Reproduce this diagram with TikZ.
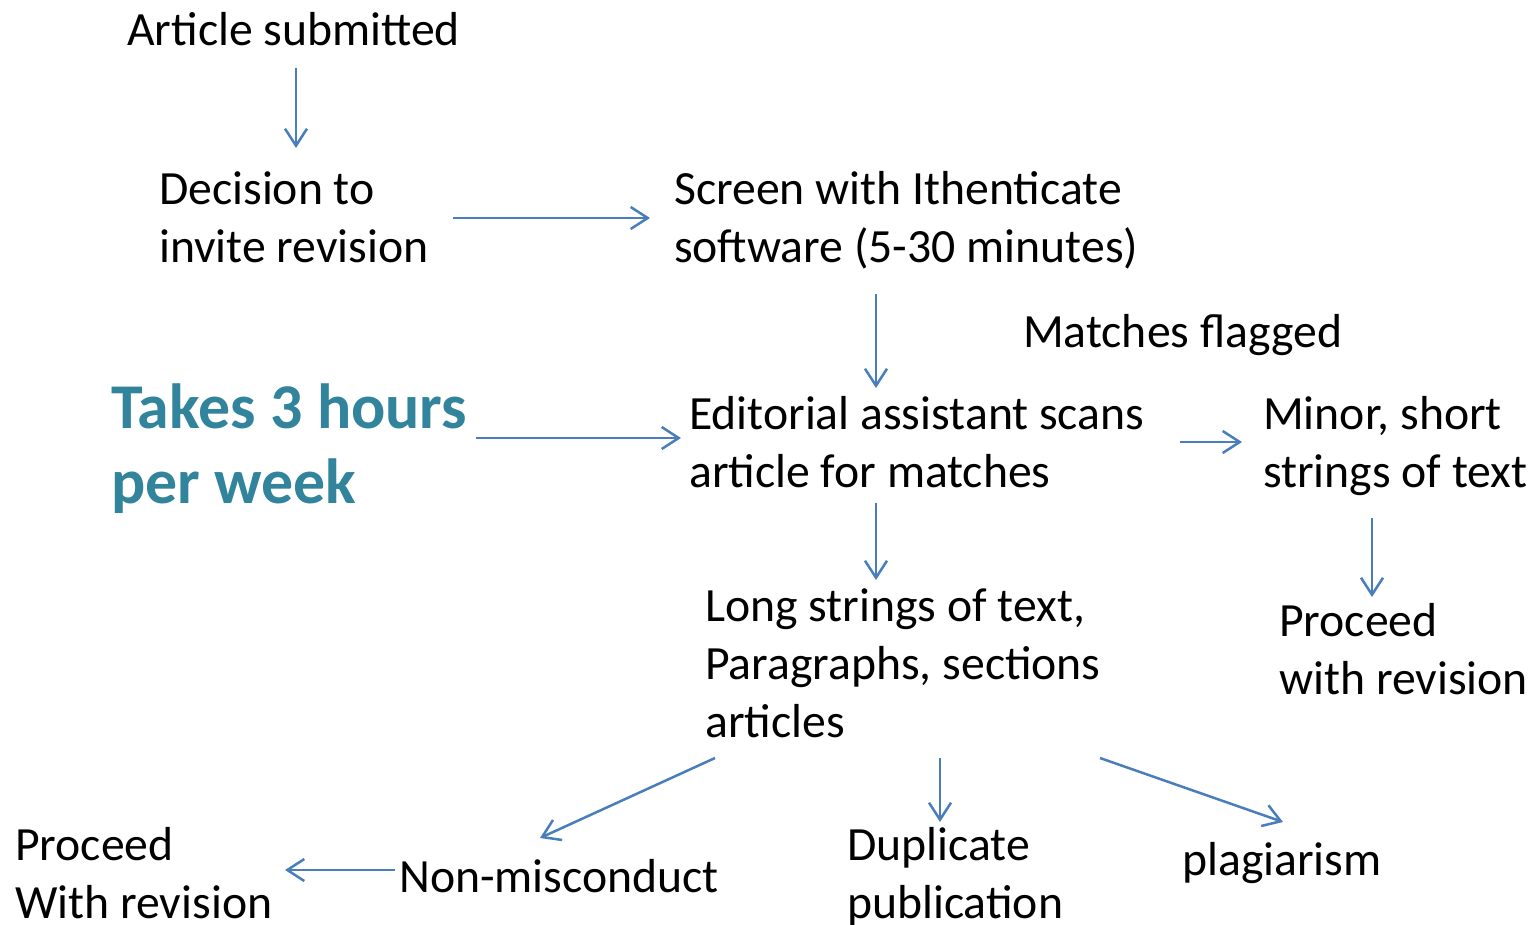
\documentclass[tikz,border=0pt]{standalone}
\usepackage{fontspec}
\setmainfont{Carlito}
\usetikzlibrary{arrows.meta}
\definecolor{arrowblue}{RGB}{74,126,187}
\definecolor{teal1}{RGB}{49,132,155}
\tikzset{
  txt/.style={anchor=base west, inner sep=0pt, font=\fontsize{47.7}{58}\selectfont},
  bigtxt/.style={anchor=base west, inner sep=0pt, text=teal1, font=\fontsize{63.8}{75}\selectfont\bfseries},
  conn/.style={draw=arrowblue, line width=2.5pt, -{Straight Barb[length=17pt,width=22pt,line width=2.5pt]}}
}
\newcommand{\ml}[1]{\begin{tabular}[t]{@{}l@{}}#1\end{tabular}}
\begin{document}
\begin{tikzpicture}[x=1pt,y=-1pt]
\useasboundingbox (0,0) rectangle (1534,924);
\node[txt] (sub) at (127,45) {Article submitted};
\node[txt] (dec) at (159,204) {\ml{Decision to\\invite revision}};
\node[txt] (scr) at (674,204) {\ml{Screen with Ithenticate\\software (5-30 minutes)}};
\node[txt] (flag) at (1023,347) {Matches flagged};
\node[txt] (ed) at (689,429) {\ml{Editorial assistant scans\\article for matches}};
\node[txt] (minor) at (1263,429) {\ml{Minor, short\\strings of text}};
\node[bigtxt] (takes) at (111,428) {\begin{tabular}[t]{@{}l@{}}Takes 3 hours\\per week\end{tabular}};
\node[txt] (long) at (705,621) {\ml{Long strings of text,\\Paragraphs, sections\\articles}};
\node[txt] (proc1) at (1279,636) {\ml{Proceed\\with revision}};
\node[txt] (proc2) at (15,860) {\ml{Proceed\\With revision}};
\node[txt] (non) at (399,892) {Non-misconduct};
\node[txt] (dup) at (847,860) {\ml{Duplicate\\publication}};
\node[txt] (plag) at (1182,875) {plagiarism};

\coordinate (a1s) at (296,68);   \coordinate (a1e) at (296,148);
\coordinate (a2s) at (453,218);  \coordinate (a2e) at (650,218);
\coordinate (a3s) at (876,294);  \coordinate (a3e) at (876,388);
\coordinate (a4s) at (476,438);  \coordinate (a4e) at (681,438);
\coordinate (a5s) at (1180,442); \coordinate (a5e) at (1242,442);
\coordinate (a6s) at (876,503);  \coordinate (a6e) at (876,580);
\coordinate (a7s) at (1372,518); \coordinate (a7e) at (1372,597);
\coordinate (a8s) at (715,758);  \coordinate (a8e) at (540,838);
\coordinate (a9s) at (940,758);  \coordinate (a9e) at (940,822);
\coordinate (a10s) at (1100,758); \coordinate (a10e) at (1283,822);
\coordinate (a11s) at (395,870); \coordinate (a11e) at (285,870);

\foreach \i in {1,...,11} \draw[conn] (a\i s) -- (a\i e);
\end{tikzpicture}
\end{document}
